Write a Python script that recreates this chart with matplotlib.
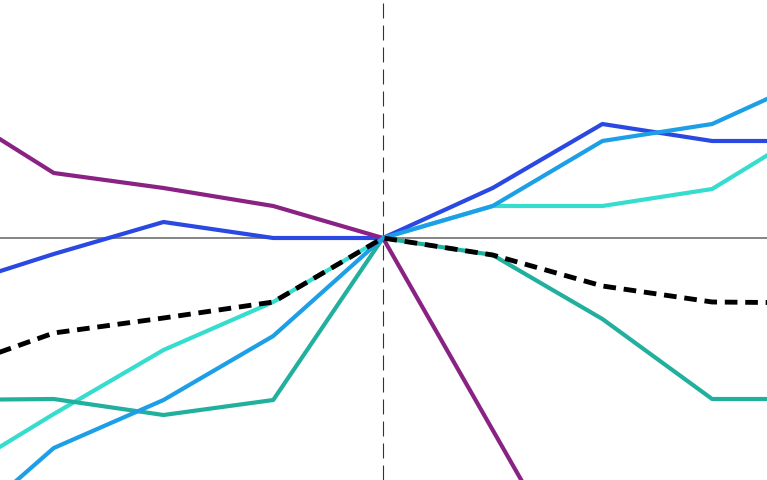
import matplotlib
matplotlib.use("Agg")
import matplotlib.pyplot as plt
import numpy as np

x = [-4, -3, -2, -1, 0, 1, 2, 3, 4]

purple = [6.7, 3.25, 2.5, 1.6, 0, -9.6, -19.2, -19.2, -19.2]
blue = [-2.55, -0.8, 0.8, 0, 0, 2.5, 5.7, 4.85, 4.85]
light_blue = [-15.3, -10.5, -8.1, -4.9, 0, 1.6, 4.85, 5.7, 8.2]
turquoise = [-12.15, -8.8, -5.6, -3.2, 0, 1.6, 1.6, 2.45, 5.8]
teal = [-8.1, -8.05, -8.85, -8.1, 0, -0.85, -4.05, -8.05, -8.05]
average = [-6.7, -4.75, -4.0, -3.2, 0, -0.85, -2.4, -3.2, -3.25]

fig = plt.figure(figsize=(7.67, 4.8), dpi=100)
ax = fig.add_axes([0, 0, 1, 1])
ax.set_axis_off()

ax.axhline(0, color="#707070", lw=1.2, zorder=1)
ax.axvline(0, color="#333333", lw=0.8, linestyle=(0, (13.5, 6.3)), zorder=1)

lw = 3.0
ax.plot(x, turquoise, color="#36DDCF", lw=lw, zorder=2)
ax.plot(x, teal, color="#22B09E", lw=lw, zorder=3)
ax.plot(x, blue, color="#2A48E2", lw=lw, zorder=4)
ax.plot(x, purple, color="#8A2284", lw=lw, zorder=5)
ax.plot(x, light_blue, color="#1C9FE6", lw=lw, zorder=6)
ax.plot(x, average, color="black", lw=3.5, linestyle=(0, (2.6, 1.6)), zorder=7)

ax.set_xlim(-3.49, 3.50)
ax.set_ylim(-12.1, 11.9)

fig.savefig("out.png", dpi=100)
